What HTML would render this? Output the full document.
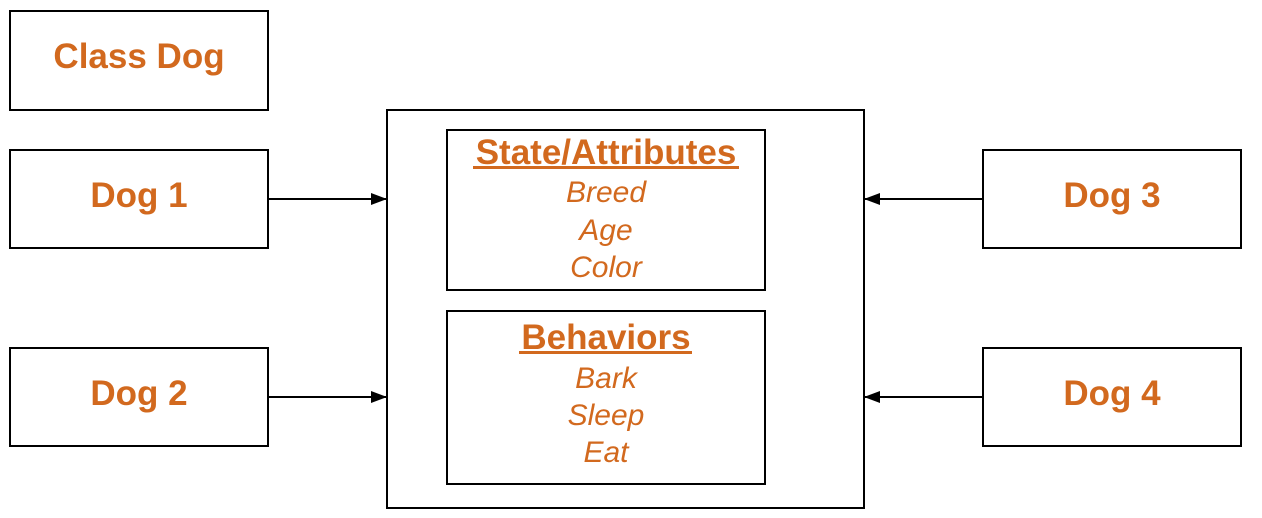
<!DOCTYPE html>
<html><head><style>html,body{margin:0;padding:0;background:#fff}</style></head>
<body>
<svg width="1262" height="518" xmlns="http://www.w3.org/2000/svg" style="display:block">
<defs><marker id="a" markerWidth="16" markerHeight="12" refX="16" refY="6" orient="auto" markerUnits="userSpaceOnUse"><path d="M0,0 L16,6 L0,12 z" fill="#000"/></marker></defs>
<g fill="#fff" stroke="#000" stroke-width="2">
<rect x="10" y="11" width="258" height="99"/>
<rect x="10" y="150" width="258" height="98"/>
<rect x="10" y="348" width="258" height="98"/>
<rect x="983" y="150" width="258" height="98"/>
<rect x="983" y="348" width="258" height="98"/>
<rect x="387" y="110" width="477" height="398"/>
<rect x="447" y="130" width="318" height="160"/>
<rect x="447" y="311" width="318" height="173"/>
</g>
<g stroke="#000" stroke-width="2">
<line x1="268" y1="199" x2="387" y2="199" marker-end="url(#a)"/>
<line x1="268" y1="397" x2="387" y2="397" marker-end="url(#a)"/>
<line x1="983" y1="199" x2="864" y2="199" marker-end="url(#a)"/>
<line x1="983" y1="397" x2="864" y2="397" marker-end="url(#a)"/>
</g>
<g font-family="Liberation Sans, Arial, sans-serif" fill="#d2691e" text-anchor="middle">
<g font-weight="bold" font-size="35">
<text x="139" y="68">Class Dog</text>
<text x="139" y="207">Dog 1</text>
<text x="139" y="405">Dog 2</text>
<text x="1112" y="207">Dog 3</text>
<text x="1112" y="405">Dog 4</text>
<text x="606" y="164">State/Attributes</text>
<text x="606" y="349">Behaviors</text>
</g>
<rect x="473" y="166" width="266" height="3"/>
<rect x="519" y="351" width="173" height="3"/>
<g font-style="italic" font-size="30">
<text x="606" y="202">Breed</text>
<text x="606" y="240">Age</text>
<text x="606" y="277">Color</text>
<text x="606" y="388">Bark</text>
<text x="606" y="425">Sleep</text>
<text x="606" y="462">Eat</text>
</g>
</g>
</svg>
</body></html>
